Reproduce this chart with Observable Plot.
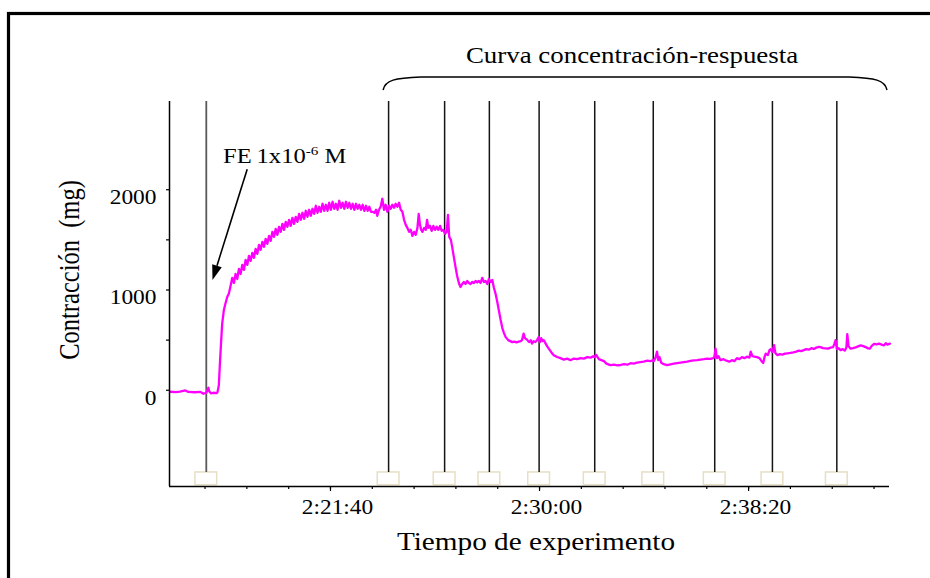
<!DOCTYPE html>
<html>
<head>
<meta charset="utf-8">
<script src="https://cdn.jsdelivr.net/npm/d3@7"></script>
<script src="https://cdn.jsdelivr.net/npm/@observablehq/plot@0.6"></script>
<style>
  body { margin: 0; background: #fff; }
  #chart svg { display: block; }
</style>
</head>
<body>
<div id="chart"></div>
<script>
// ---- data (time in seconds since 0:00:00, contraction in mg) ----
const eventTimes = [8203, 8639, 8773, 8880, 8999, 9132, 9272, 9419, 9557, 9711];
const yTicks = [0, 500, 1000, 1500, 2000];
const yTickLabels = [0, 1000, 2000];
const xMinorTicks = [8200, 8300, 8400, 8500, 8600, 8700, 8800, 8900, 9000, 9100, 9200, 9300, 9400, 9500, 9600, 9700, 9800];
const xMajorTicks = [8500, 9000, 9500];

const traceTime = [
  8117, 8130, 8140, 8153, 8160, 8175, 8189, 8196, 8203, 8208, 8210, 8214, 8220, 8228, 8230,
  8233, 8236, 8238, 8241, 8245, 8249, 8253, 8257, 8261, 8265, 8269, 8273, 8277, 8281, 8285,
  8289, 8293, 8297, 8301, 8305, 8309, 8313, 8317, 8321, 8325, 8329, 8333, 8337, 8341, 8345,
  8349, 8353, 8357, 8361, 8365, 8369, 8373, 8377, 8381, 8385, 8389, 8393, 8397, 8401, 8405,
  8409, 8413, 8417, 8421, 8425, 8429, 8433, 8437, 8441, 8445, 8449, 8453, 8457, 8461, 8465,
  8469, 8473, 8477, 8481, 8485, 8489, 8493, 8497, 8501, 8505, 8509, 8513, 8517, 8521, 8525,
  8529, 8533, 8537, 8541, 8545, 8549, 8553, 8557, 8561, 8565, 8569, 8573, 8577, 8581, 8585,
  8589, 8593, 8597, 8601, 8605, 8609, 8612, 8616, 8620, 8624, 8628, 8632, 8636, 8640, 8644,
  8648, 8652, 8656, 8660, 8664, 8668, 8672, 8676, 8680, 8684, 8688, 8692, 8696, 8700, 8704,
  8708, 8711, 8714, 8717, 8720, 8724, 8728, 8731, 8734, 8738, 8742, 8746, 8750, 8754, 8758,
  8762, 8766, 8770, 8774, 8778, 8781, 8784, 8788, 8791, 8795, 8799, 8803, 8807, 8811, 8815,
  8819, 8823, 8827, 8831, 8835, 8839, 8843, 8847, 8851, 8855, 8859, 8863, 8867, 8871, 8875,
  8879, 8883, 8887, 8891, 8895, 8899, 8903, 8907, 8911, 8915, 8919, 8925, 8930, 8935, 8940,
  8945, 8950, 8955, 8958, 8962, 8965, 8970, 8975, 8979, 8982, 8986, 8990, 8994, 8998, 9001,
  9004, 9007, 9010, 9014, 9018, 9022, 9028, 9034, 9042, 9050, 9058, 9066, 9074, 9082, 9090,
  9098, 9106, 9114, 9122, 9128, 9132, 9135, 9138, 9142, 9148, 9154, 9160, 9166, 9170, 9178,
  9186, 9194, 9202, 9210, 9218, 9225, 9233, 9241, 9249, 9258, 9265, 9270, 9273, 9277, 9281,
  9284, 9287, 9291, 9297, 9305, 9313, 9321, 9329, 9337, 9345, 9353, 9361, 9369, 9377, 9385,
  9393, 9401, 9409, 9415, 9418, 9421, 9424, 9428, 9433, 9440, 9447, 9454, 9460, 9466, 9472,
  9478, 9484, 9490, 9496, 9502, 9505, 9509, 9514, 9520, 9526, 9531, 9535, 9538, 9541, 9546,
  9550, 9553, 9557, 9561, 9564, 9569, 9575, 9581, 9587, 9593, 9600, 9607, 9614, 9620, 9626,
  9632, 9638, 9644, 9650, 9656, 9662, 9668, 9672, 9678, 9684, 9690, 9696, 9702, 9705, 9708,
  9711, 9715, 9720, 9725, 9730, 9734, 9736, 9739, 9744, 9750, 9756, 9762, 9768, 9774, 9780,
  9786, 9790, 9794, 9800, 9806, 9812, 9818, 9824, 9828, 9832, 9838
];
const traceMg = [
  -15, -18, -14, -2, -17, -20, -16, -35, -25, 25, -10, -30, -25, -28, -15,
  50, 300, 450, 665, 800, 867, 930, 966, 1040, 1120, 1070, 1160, 1110, 1210, 1160,
  1250, 1200, 1300, 1250, 1340, 1290, 1370, 1320, 1410, 1360, 1450, 1400, 1480, 1430, 1510,
  1460, 1540, 1490, 1580, 1530, 1610, 1550, 1630, 1580, 1660, 1600, 1680, 1630, 1700, 1640,
  1720, 1660, 1730, 1680, 1760, 1700, 1770, 1710, 1790, 1730, 1800, 1740, 1810, 1760, 1840,
  1770, 1830, 1780, 1860, 1790, 1850, 1790, 1870, 1800, 1880, 1810, 1860, 1800, 1890, 1820,
  1870, 1810, 1880, 1820, 1870, 1810, 1860, 1800, 1860, 1810, 1850, 1800, 1850, 1790, 1840,
  1790, 1830, 1780, 1780, 1770, 1800, 1740, 1800, 1830, 1910, 1800, 1850, 1780, 1840, 1810,
  1850, 1820, 1860, 1830, 1870, 1800, 1780, 1700, 1650, 1620, 1580, 1600, 1540, 1580, 1550,
  1620, 1760, 1650, 1600, 1580, 1620, 1600, 1700, 1620, 1640, 1590, 1640, 1600, 1630, 1600,
  1640, 1590, 1600, 1560, 1580, 1750, 1530, 1500, 1430, 1330, 1230, 1140, 1070, 1030, 1060,
  1080, 1060, 1090, 1070, 1060, 1080, 1070, 1090, 1075, 1090, 1070, 1120, 1080, 1090, 1060,
  1110, 1080, 1100, 1020, 960, 880, 790, 700, 620, 570, 530, 500, 490, 480, 485,
  478, 485, 490, 500, 565, 520, 505, 480, 500, 465, 490, 480, 500, 530, 480,
  520, 490, 500, 470, 440, 415, 380, 350, 332, 320, 305, 315, 300, 316, 310,
  320, 315, 330, 325, 340, 330, 355, 335, 310, 300, 290, 265, 255, 250, 255,
  248, 252, 260, 255, 270, 265, 275, 280, 285, 295, 290, 300, 290, 320, 385,
  300, 330, 275, 260, 250, 258, 265, 270, 275, 280, 285, 292, 298, 300, 305,
  310, 316, 312, 320, 330, 415, 320, 340, 300, 310, 295, 285, 300, 290, 320,
  310, 330, 320, 335, 325, 385, 340, 335, 330, 320, 290, 272, 330, 365, 350,
  400, 410, 380, 450, 370, 350, 360, 355, 365, 368, 372, 378, 385, 395, 390,
  400, 410, 405, 420, 412, 425, 432, 430, 420, 418, 415, 425, 430, 460, 500,
  410, 420, 400, 410, 395, 430, 560, 440, 415, 420, 428, 438, 448, 440, 430,
  418, 415, 440, 462, 458, 465, 455, 448, 470, 455, 465
];

const trace = traceTime.map((t, i) => ({t, mg: traceMg[i]}));
const xDomain = [8115, 9837];
const yDomain = [-960, 2880];
const boxHalf = 26;       // half width of stimulus markers (s)
const boxTop = -820, boxBottom = -947;

const fmtTime = (s) => {
  const h = Math.floor(s / 3600), m = Math.floor((s % 3600) / 60), sec = s % 60;
  return `${h}:${String(m).padStart(2, "0")}:${String(sec).padStart(2, "0")}`;
};

const FONT = "'Liberation Serif', 'Times New Roman', Times, serif";

const plot = Plot.plot({
  width: 930,
  height: 578,
  marginTop: 101,
  marginRight: 41,
  marginBottom: 92,
  marginLeft: 169,
  style: {fontFamily: FONT, background: "white", overflow: "visible", color: "black"},
  x: {domain: xDomain, axis: null},
  y: {domain: yDomain, axis: null},
  marks: [
    Plot.rect(eventTimes, {x1: (d) => d - boxHalf, x2: (d) => d + boxHalf, y1: boxBottom, y2: boxTop,
      fill: "white", stroke: "#e6dfc4", strokeWidth: 1.5}),
    Plot.ruleX(eventTimes.slice(0, 1), {y1: boxTop, y2: yDomain[1], stroke: "#5a5a5a", strokeWidth: 1.8}),
    Plot.ruleX(eventTimes.slice(1), {y1: boxTop, y2: yDomain[1], stroke: "#151515", strokeWidth: 1.5}),
    Plot.line(trace, {x: "t", y: "mg", stroke: "#ff00ff", strokeWidth: 2.3}),
    // axis lines
    Plot.ruleX([xDomain[0]], {y1: yDomain[0], y2: yDomain[1], stroke: "black", strokeWidth: 1.5}),
    Plot.ruleY([yDomain[0]], {x1: xDomain[0], x2: xDomain[1], stroke: "black", strokeWidth: 1.5}),
    // y ticks and labels
    Plot.axisY({ticks: yTicks, tickSize: 3, tickFormat: () => "", strokeWidth: 1.2, label: null}),
    Plot.axisY({ticks: yTickLabels, tickSize: 0, tickPadding: 13, dy: 8, fontSize: 20,
      tickFormat: (d) => String(d), label: null, fill: "black"}),
    // x ticks and labels
    Plot.axisX({ticks: xMinorTicks, tickSize: 3, tickFormat: () => "", strokeWidth: 1.2, label: null}),
    Plot.axisX({ticks: xMajorTicks, tickSize: 5, tickFormat: () => "", strokeWidth: 1.2, label: null}),
    Plot.axisX({ticks: xMajorTicks, tickSize: 0, tickPadding: 13, dx: 7, fontSize: 20,
      tickFormat: fmtTime, label: null, fill: "black"})
  ]
});

document.getElementById("chart").appendChild(plot);

const svg = d3.select(plot);
const SX = 1.17; // horizontal stretch of the reference's lettering

// stretch axis lettering horizontally
svg.selectAll("text").each(function () {
  const t = this.getAttribute("transform");
  if (t) this.setAttribute("transform", t + ` scale(${SX},1)`);
});

const xs = plot.scale("x"), ys = plot.scale("y");
const X = (v) => xs.apply(v), Y = (v) => ys.apply(v);

// outer frame
svg.append("rect")
  .attr("x", 8.5).attr("y", 13.5).attr("width", 1000).attr("height", 700)
  .attr("fill", "none").attr("stroke", "black").attr("stroke-width", 3.2);

// brace over the concentration-response series
const bl = X(eventTimes[1]) - 5, br = X(xDomain[1]) - 2, bTop = 77, bEnd = 90;
svg.append("path")
  .attr("d", `M${bl},${bEnd} C${bl + 2},${bTop + 3} ${bl + 12},${bTop + 1} ${bl + 38},${bTop}
              L${br - 38},${bTop} C${br - 12},${bTop + 1} ${br - 2},${bTop + 3} ${br},${bEnd}`)
  .attr("fill", "none").attr("stroke", "black").attr("stroke-width", 1.5);

// title of the bracket
const cx = (bl + br) / 2 - 3;
svg.append("text")
  .attr("transform", `translate(${cx},63) scale(${SX},1)`)
  .attr("text-anchor", "middle")
  .attr("font-family", FONT).attr("font-size", 23)
  .text("Curva concentración-respuesta");

// x-axis title
svg.append("text")
  .attr("transform", `translate(536,550) scale(${SX},1)`)
  .attr("text-anchor", "middle")
  .attr("font-family", FONT).attr("font-size", 25)
  .text("Tiempo de experimento");

// y-axis title
svg.append("text")
  .attr("transform", `translate(79,270) scale(${SX},1) rotate(-90)`)
  .attr("text-anchor", "middle")
  .attr("font-family", FONT).attr("font-size", 24.5)
  .text("Contracción\u00a0 (mg)");

// FE annotation
const fe = svg.append("text")
  .attr("transform", `translate(223,163) scale(${SX},1)`)
  .attr("text-anchor", "start")
  .attr("font-family", FONT).attr("font-size", 21);
fe.append("tspan").text("FE\u2009");
fe.append("tspan").text("1x10");
fe.append("tspan").attr("font-size", 13).attr("dy", -8).text("-6");
fe.append("tspan").attr("dy", 8).text(" M");

// arrow pointing at the addition of FE
const a0 = [X(8302), Y(2199)], a1 = [X(8219), Y(1095)];
const ang = Math.atan2(a1[1] - a0[1], a1[0] - a0[0]);
const hl = 15, hw = 5;
const bx = a1[0] - hl * Math.cos(ang), by = a1[1] - hl * Math.sin(ang);
svg.append("line")
  .attr("x1", a0[0]).attr("y1", a0[1]).attr("x2", bx).attr("y2", by)
  .attr("stroke", "black").attr("stroke-width", 1.6);
svg.append("path")
  .attr("d", `M${a1[0]},${a1[1]} L${bx + hw * Math.sin(ang)},${by - hw * Math.cos(ang)} L${bx - hw * Math.sin(ang)},${by + hw * Math.cos(ang)} Z`)
  .attr("fill", "black");
</script>
</body>
</html>
